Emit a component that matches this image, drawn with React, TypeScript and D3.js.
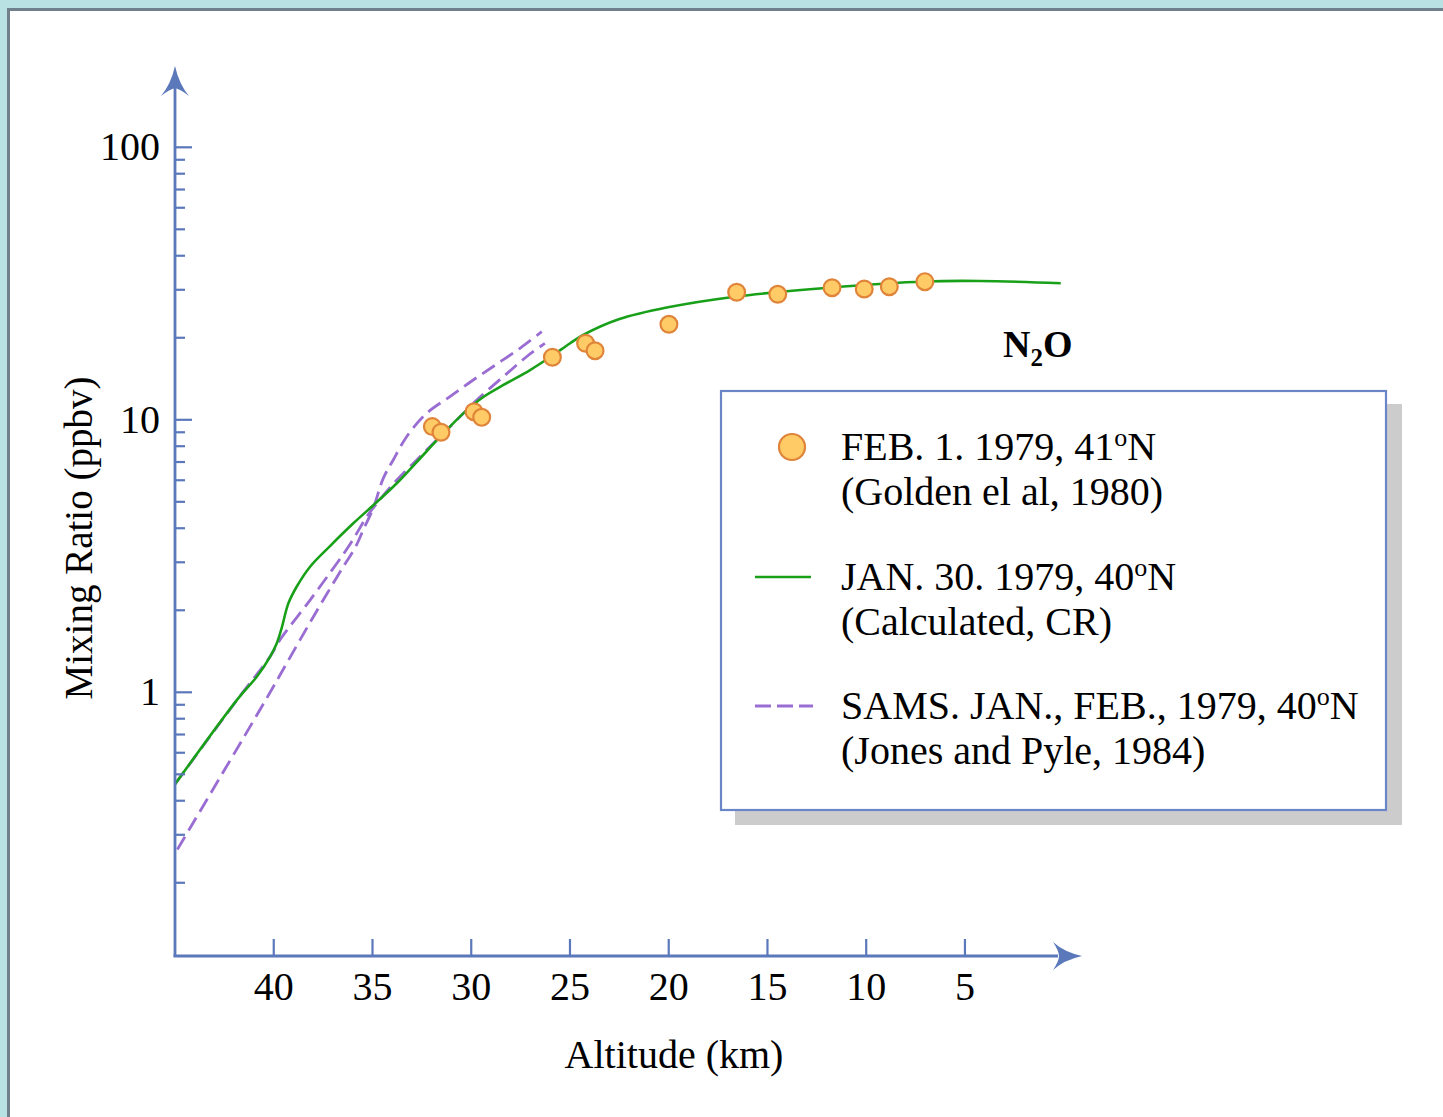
import React from "react";
import * as d3 from "d3";

// ---------- data ----------
const obsAlt = [31.97, 31.53, 29.86, 29.47, 25.89, 24.21, 23.73, 19.99, 16.56, 14.48, 11.73, 10.1, 8.83, 7.03];
const obsVal = [9.44, 9.0, 10.71, 10.21, 16.96, 19.09, 17.93, 22.41, 29.38, 28.88, 30.53, 30.2, 30.79, 32.13];

const calcAlt = [45.0, 41.8, 40.86, 40.19, 39.85, 39.6, 39.26, 38.84, 38.16, 37.15, 35.97, 34.78, 33.77, 32.76, 31.58, 30.4, 29.39, 28.37, 27.02, 25.92, 24.99, 24.33, 22.53, 20.04, 16.65, 11.9, 7.03, 4.24, 0.15];
const calcVal = [0.46, 0.95, 1.14, 1.35, 1.51, 1.72, 2.12, 2.44, 2.89, 3.44, 4.17, 4.99, 5.85, 7.0, 8.65, 10.56, 12.13, 13.42, 15.23, 17.15, 19.09, 20.48, 23.38, 25.87, 28.3, 30.53, 32.18, 32.32, 31.7];

const samsAAlt = [44.88, 40.36, 39.34, 38.0, 36.48, 35.89, 35.47, 34.96, 34.45, 33.95, 33.27, 32.26, 31.08, 29.9, 28.71, 27.53, 26.43];
const samsAVal = [0.265, 0.95, 1.28, 1.89, 2.89, 3.38, 3.94, 4.75, 6.11, 7.12, 8.67, 10.56, 12.16, 14.0, 16.0, 18.3, 21.05];

const samsBAlt = [45.0, 41.8, 40.19, 39.68, 38.16, 36.81, 36.22, 35.8, 35.29, 34.78, 33.77, 32.76, 31.75, 30.73, 29.72, 28.38, 27.2, 26.27];
const samsBVal = [0.46, 0.95, 1.35, 1.56, 2.18, 2.97, 3.42, 3.83, 4.41, 4.94, 6.01, 7.12, 8.43, 9.98, 11.82, 14.39, 17.04, 19.09];

const xTicks = [40, 35, 30, 25, 20, 15, 10, 5];
const yMajorTicks = [1, 10, 100];
const yMajorLabels = ["1", "10", "100"];
const yMinorTicks = [0.2, 0.3, 0.4, 0.5, 0.6, 0.7, 0.8, 0.9, 2, 3, 4, 5, 6, 7, 8, 9, 20, 30, 40, 50, 60, 70, 80, 90];

const legendLabels = [
  ["FEB. 1. 1979, 41", "N", "(Golden el al, 1980)"],
  ["JAN. 30. 1979, 40", "N", "(Calculated, CR)"],
  ["SAMS. JAN., FEB., 1979, 40", "N", "(Jones and Pyle, 1984)"],
];

// ---------- styles ----------
const AXIS = "#5b78bb";
const GREEN = "#19a019";
const PURPLE = "#9a6dd3";
const FONT = "'Liberation Serif', 'Times New Roman', serif";

export default function App() {
  const x = d3.scaleLinear().domain([45, 0]).range([175, 1063.7]);
  const y = d3.scaleLog().domain([1, 100]).range([692.3, 147.3]);

  const x0 = 175;
  const yBottom = 956;

  const mkLine = (alts: number[], vals: number[]) =>
    d3
      .line<number>()
      .x((_, i) => x(alts[i]))
      .y((_, i) => y(vals[i]))
      .curve(d3.curveCatmullRom.alpha(0.5))(alts.map((_, i) => i)) || "";

  const calcPath = mkLine(calcAlt, calcVal);
  const samsAPath = mkLine(samsAAlt, samsAVal);
  const samsBPath = mkLine(samsBAlt, samsBVal);

  const supText = (main: string, tail: string, xx: number, yy: number) => (
    <text x={xx} y={yy} fontFamily={FONT} fontSize={40} fill="#000">
      {main}
      <tspan fontSize={26} dy={-14}>o</tspan>
      <tspan dy={14}>{tail}</tspan>
    </text>
  );

  return (
    <div style={{ position: "absolute", left: 0, top: 0, width: 1443, height: 1117 }}>
      <svg width={1443} height={1117} style={{ display: "block" }}>
        {/* frame */}
        <rect x={0} y={0} width={1443} height={1117} fill="#b9e0e3" />
        <rect x={7} y={8} width={1500} height={1200} fill="#6f7f8b" />
        <rect x={10} y={11} width={1500} height={1200} fill="#ffffff" />

        {/* lines */}
        <path d={samsAPath} fill="none" stroke={PURPLE} strokeWidth={2.8} strokeDasharray="15 7" />
        <path d={samsBPath} fill="none" stroke={PURPLE} strokeWidth={2.8} strokeDasharray="15 7" />
        <path d={calcPath} fill="none" stroke={GREEN} strokeWidth={2.6} />

        {/* observations */}
        {obsAlt.map((a, i) => (
          <circle key={i} cx={x(a)} cy={y(obsVal[i])} r={8.4} fill="#ffcb66" stroke="#e0843a" strokeWidth={2.2} />
        ))}

        {/* y axis */}
        <line x1={x0} y1={yBottom + 1} x2={x0} y2={88} stroke={AXIS} strokeWidth={2.8} />
        <path
          d={`M${x0},66 Q${x0 + 4},84 ${x0 + 14},96 Q${x0 + 5},89 ${x0},88 Q${x0 - 5},89 ${x0 - 14},96 Q${x0 - 4},84 ${x0},66 Z`}
          fill={AXIS}
        />
        {yMajorTicks.map((t, i) => (
          <g key={"ym" + i}>
            <line x1={x0} x2={x0 + 17} y1={y(t)} y2={y(t)} stroke={AXIS} strokeWidth={2.2} />
            <text x={160} y={y(t) + 13} textAnchor="end" fontFamily={FONT} fontSize={40} fill="#000">
              {yMajorLabels[i]}
            </text>
          </g>
        ))}
        {yMinorTicks.map((t, i) => (
          <line key={"yn" + i} x1={x0} x2={x0 + 10} y1={y(t)} y2={y(t)} stroke={AXIS} strokeWidth={2.2} />
        ))}

        {/* x axis */}
        <line x1={x0 - 1.4} y1={yBottom} x2={1058} y2={yBottom} stroke={AXIS} strokeWidth={2.8} />
        <path
          d={`M1082,${yBottom} Q1064,${yBottom - 4} 1053,${yBottom - 14} Q1059,${yBottom - 5} 1059,${yBottom} Q1059,${yBottom + 5} 1053,${yBottom + 14} Q1064,${yBottom + 4} 1082,${yBottom} Z`}
          fill={AXIS}
        />
        {xTicks.map((t) => (
          <g key={"x" + t}>
            <line x1={x(t)} x2={x(t)} y1={yBottom} y2={yBottom - 17} stroke={AXIS} strokeWidth={2.2} />
            <text x={x(t)} y={1000} textAnchor="middle" fontFamily={FONT} fontSize={40} fill="#000">
              {t}
            </text>
          </g>
        ))}

        {/* axis titles */}
        <text x={674} y={1068} textAnchor="middle" fontFamily={FONT} fontSize={40} fill="#000">
          Altitude (km)
        </text>
        <text
          transform="translate(92,538) rotate(-90)"
          textAnchor="middle"
          fontFamily={FONT}
          fontSize={39}
          fill="#000"
        >
          Mixing Ratio (ppbv)
        </text>

        {/* N2O label */}
        <text x={1003} y={357} fontFamily={FONT} fontSize={38} fontWeight="bold" fill="#000">
          N<tspan fontSize={25} dy={9}>2</tspan>
          <tspan dy={-9}>O</tspan>
        </text>

        {/* legend */}
        <rect x={735} y={404} width={667} height={421} fill="#cccccc" />
        <rect x={721} y={391} width={665} height={419} fill="#ffffff" stroke="#6a86c6" strokeWidth={2.2} />
        <circle cx={792} cy={447} r={13} fill="#ffcb66" stroke="#e0843a" strokeWidth={2.2} />
        <line x1={755} x2={811} y1={577} y2={577} stroke={GREEN} strokeWidth={2.6} />
        <line x1={755} x2={813} y1={706} y2={706} stroke={PURPLE} strokeWidth={2.8} strokeDasharray="16 6" />
        {legendLabels.map((l, i) => {
          const base = 460 + i * 129.5;
          return (
            <g key={"lg" + i}>
              {supText(l[0], l[1], 841, base)}
              <text x={841} y={base + 45} fontFamily={FONT} fontSize={40} fill="#000">
                {l[2]}
              </text>
            </g>
          );
        })}
      </svg>
    </div>
  );
}
